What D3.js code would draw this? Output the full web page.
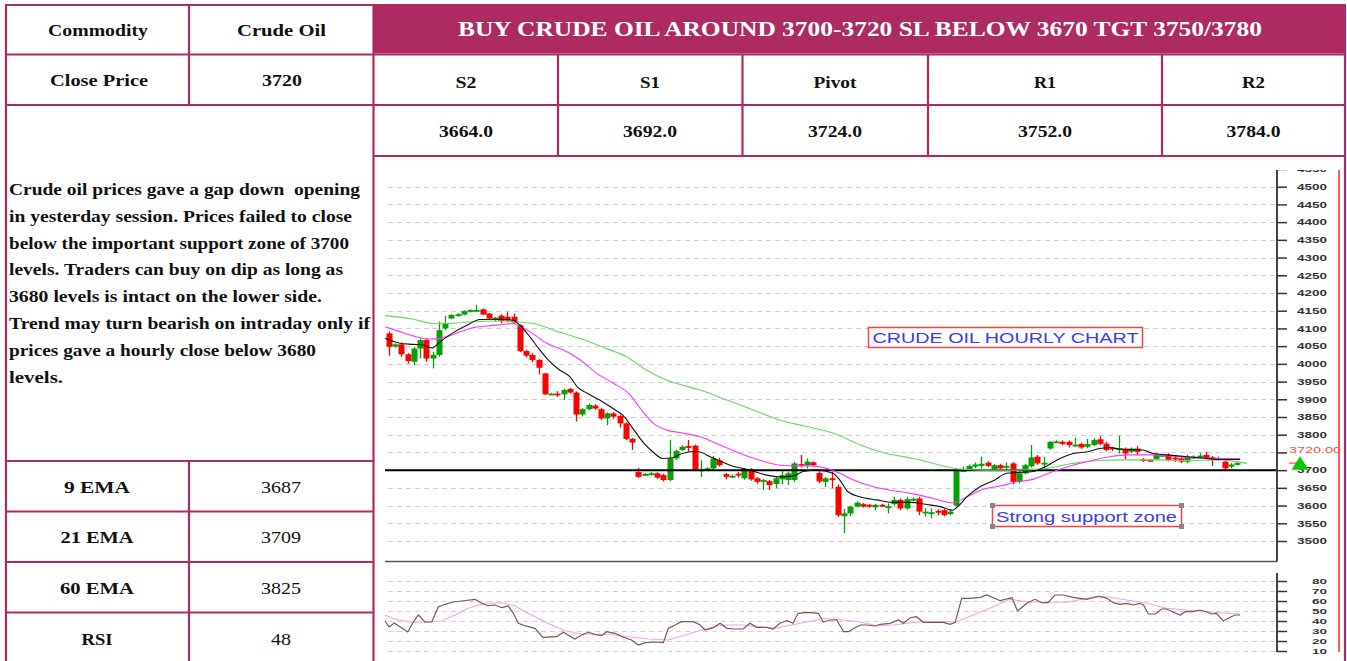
<!DOCTYPE html>
<html><head><meta charset="utf-8">
<script src="https://cdn.jsdelivr.net/npm/d3@7"></script>
<style>html,body{margin:0;padding:0;background:#fff;}svg{display:block;}</style>
</head><body>
<svg id="c" width="1347" height="661"></svg>
<script>
// ---------------- DATA ----------------
const commodityLabel = "Commodity";
const commodityName = "Crude Oil";
const closeLabel = "Close Price";
const closePrice = "3720";
const headline = "BUY CRUDE OIL AROUND 3700-3720 SL BELOW 3670 TGT 3750/3780";
const levelNames = ["S2", "S1", "Pivot", "R1", "R2"];
const levelValues = [3664.0, 3692.0, 3724.0, 3752.0, 3784.0];
const commentary = [
  "Crude oil prices gave a gap down  opening",
  "in yesterday session. Prices failed to close",
  "below the important support zone of 3700",
  "levels. Traders can buy on dip as long as",
  "3680 levels is intact on the lower side.",
  "Trend may turn bearish on intraday only if",
  "prices gave a hourly close below 3680",
  "levels."
];
const indicatorNames = ["9 EMA", "21 EMA", "60 EMA", "RSI"];
const indicatorValues = [3687, 3709, 3825, 48];

const open = [4086,4049,4055,4027,4006,4043,4067,4015,4025,4100,
4128,4136,4139,4147,4149,4154,4142,4127,4136,4133,
4133,4109,4036,4025,4011,3973,3914,3916,3914,3929,
3919,3857,3872,3882,3872,3846,3860,3853,3832,3788,
3695,3686,3688,3691,3686,3672,3733,3757,3768,3769,
3697,3702,3705,3728,3689,3682,3690,3677,3702,3677,
3668,3669,3661,3674,3672,3672,3717,3714,3722,3692,
3667,3677,3653,3570,3578,3597,3604,3602,3595,3602,
3595,3604,3616,3592,3616,3620,3580,3578,3585,3587,
3576,3600,3697,3702,3710,3712,3721,3702,3714,3708,
3719,3667,3691,3711,3738,3717,3761,3779,3780,3780,
3768,3774,3766,3771,3787,3775,3764,3759,3761,3752,
3761,3731,3729,3731,3740,3743,3735,3733,3724,3736,
3737,3743,3736,3734,3724,3710,3716];
const high = [4091,4058,4060,4030,4048,4072,4072,4034,4119,4136,
4140,4143,4151,4154,4166,4156,4144,4133,4140,4147,
4142,4112,4040,4030,4014,3975,3918,3923,3930,3932,
3922,3875,3888,3886,3876,3863,3864,3856,3835,3791,
3707,3692,3695,3694,3690,3785,3758,3770,3785,3772,
3728,3708,3740,3735,3692,3688,3695,3706,3706,3680,
3675,3672,3680,3700,3695,3724,3743,3733,3725,3697,
3680,3696,3660,3590,3600,3612,3607,3604,3605,3605,
3606,3625,3620,3625,3623,3625,3592,3592,3590,3590,
3590,3703,3710,3716,3722,3738,3725,3718,3718,3722,
3722,3700,3718,3771,3743,3738,3782,3784,3784,3784,
3792,3777,3788,3790,3796,3780,3766,3797,3764,3764,
3768,3734,3732,3748,3746,3748,3740,3736,3743,3742,
3748,3752,3740,3738,3728,3720,3724];
const low = [4023,4045,4020,4001,3996,4015,4006,3987,4020,4095,
4126,4133,4137,4145,4146,4137,4125,4120,4114,4118,
4112,4033,4018,4005,3970,3912,3912,3907,3898,3916,
3837,3852,3869,3870,3842,3827,3845,3820,3785,3757,
3678,3684,3685,3675,3668,3669,3728,3754,3752,3697,
3681,3698,3700,3710,3674,3678,3679,3673,3670,3662,
3644,3644,3649,3660,3658,3667,3708,3705,3711,3664,
3653,3649,3568,3522,3570,3595,3594,3594,3587,3596,
3578,3600,3587,3588,3612,3573,3569,3564,3572,3570,
3572,3597,3694,3699,3706,3705,3708,3699,3702,3700,
3660,3662,3688,3708,3715,3705,3758,3776,3770,3764,
3766,3760,3762,3768,3770,3753,3754,3747,3730,3748,
3742,3723,3724,3728,3737,3725,3723,3720,3720,3732,
3733,3730,3712,3728,3700,3705,3713];
const close = [4048,4055,4027,4008,4043,4067,4015,4025,4095,4114,
4138,4140,4149,4152,4152,4139,4128,4130,4121,4123,
4117,4036,4023,4011,3989,3914,3916,3913,3926,3919,
3857,3872,3884,3874,3846,3860,3851,3832,3788,3778,
3681,3689,3691,3679,3672,3733,3754,3766,3764,3702,
3702,3705,3733,3714,3681,3684,3685,3702,3674,3667,
3672,3658,3677,3686,3691,3719,3712,3724,3714,3668,
3677,3672,3573,3578,3597,3608,3597,3597,3602,3600,
3598,3616,3592,3618,3619,3583,3583,3581,3580,3573,
3583,3700,3700,3712,3716,3718,3712,3714,3705,3712,
3667,3691,3714,3736,3719,3721,3780,3781,3774,3771,
3772,3764,3774,3785,3774,3757,3760,3762,3747,3761,
3752,3726,3726,3743,3743,3729,3730,3724,3738,3738,
3741,3734,3729,3731,3705,3716,3720];

// EMA lines: [candle index, value]
const ema9 = [[-0.64,4072],[1.76,4058],[3.85,4055],[5.45,4053],[6.9,4045],[8.18,4062],[10.1,4086],[12.5,4109],[14.6,4125],[17.3,4126],[19.9,4123],[21.0,4109],[22.6,4076],[24.2,4039],[25.8,4006],[27.4,3982],[29.0,3964],[30.2,3935],[31.8,3917],[33.8,3898],[35.9,3874],[37.5,3855],[39.1,3818],[40.7,3780],[42.3,3752],[43.9,3733],[45.5,3735],[46.6,3744],[48.3,3752],[49.6,3752],[51.5,3738],[54.7,3714],[57.9,3700],[60.6,3686],[62.7,3681],[64.8,3683],[66.4,3696],[68.6,3700],[71.2,3691],[72.3,3672],[73.6,3639],[75.5,3625],[78.2,3616],[80.8,3609],[83.6,3609],[86.3,3603],[88.4,3597],[90.4,3587],[91.2,3597],[92.7,3625],[94.8,3653],[96.9,3670],[99.1,3691],[100.7,3693],[103.3,3696],[105.5,3712],[107.6,3733],[109.7,3747],[112.0,3752],[114.0,3761],[115.6,3764],[117.2,3759],[120.9,3757],[122.5,3747],[124.8,3743],[128.0,3738],[131.2,3733],[133.3,3730],[136.5,3730]];
const ema21 = [[-0.64,4105],[1.76,4091],[3.9,4079],[6.6,4070],[8.2,4072],[10.3,4083],[13.0,4100],[15.7,4107],[18.3,4111],[19.9,4114],[21.0,4105],[22.6,4091],[25.3,4058],[28.0,4039],[30.7,4011],[33.3,3973],[36.0,3945],[38.7,3912],[40.3,3874],[42.4,3832],[44.6,3813],[46.7,3806],[49.9,3794],[53.1,3771],[56.3,3747],[59.5,3728],[62.7,3714],[65.4,3712],[67.5,3712],[70.2,3705],[72.3,3691],[74.5,3672],[77.7,3653],[80.9,3642],[84.1,3633],[87.3,3620],[90.5,3608],[92.7,3625],[95.3,3646],[98.0,3655],[100.7,3667],[103.3,3674],[106.5,3696],[109.7,3714],[112.9,3728],[115.6,3738],[118.8,3743],[122.6,3743],[127.9,3736],[132.2,3733],[136.5,3733]];
const ema60 = [[-0.64,4136],[3.9,4126],[7.1,4114],[9.25,4114],[13.5,4119],[17.8,4121],[19.9,4119],[23.2,4114],[26.4,4095],[30.6,4072],[34.9,4043],[38.1,4020],[41.3,3982],[44.6,3954],[49.9,3926],[54.2,3898],[58.4,3870],[62.7,3841],[67.0,3823],[71.3,3804],[75.6,3771],[79.8,3747],[84.1,3733],[88.4,3714],[91.6,3703],[95.3,3700],[100.7,3700],[105.5,3705],[109.7,3719],[114.0,3727],[118.3,3729],[122.6,3729],[127.9,3727],[133.3,3729],[137.6,3719]];

// RSI (candle index, value)
const rsiIdx = [-0.64,0,0.85,2.04,3.0,3.9,4.7,5.77,6.85,7.9,
8.98,10.3,11.66,13.8,14.87,15.9,17.0,18.07,19.13,19.94,
20.74,21.8,23.4,24.7,26.9,27.96,29.8,30.9,31.96,33.0,
34.1,34.9,36.25,37.6,38.9,40.0,41.06,42.7,44.0,44.8,
45.9,46.9,48.8,49.9,50.7,52.0,53.1,54.2,55.5,56.8,
57.9,58.97,60.6,61.6,62.7,63.8,64.8,65.6,67.25,68.85,
69.65,70.7,71.8,72.9,73.7,74.7,75.7,76.6,77.95,78.75,
80.35,81.7,82.5,83.6,84.6,85.7,87.3,88.9,90.0,90.8,
91.85,93.2,94.8,95.9,98.0,99.9,100.8,102.3,103.6,104.7,
105.7,106.8,108.1,109.75,111.9,113.8,115.1,116.2,117.2,118.3,
119.4,120.4,121.0,121.8,122.9,123.9,124.7,125.8,126.9,127.7,
129.0,130.0,131.1,131.9,132.7,133.8,134.9,135.7,136.5];
const rsiVal = [40.3,34,38,33,29,39,46,39,39,54,
56.7,59,60,61.7,57.7,55.3,56,53.3,55,47.7,
37.7,35.3,32.7,23.7,24.3,28.7,22,26,28.7,26.7,
25.3,29.3,27.7,23.7,21,16,18.3,19,18.3,32.7,
36,39.3,39.3,36,31,33.3,37.7,32.7,32,32,
37.7,33.7,33.7,32,37.7,40.3,37.7,47.7,48.7,47.7,
39,41,41,29.3,29.3,33.3,36,36,35,36.7,
37.7,41,37.7,43.3,44.3,38.7,38.7,38.7,36.7,38.7,
62.7,62.7,63.7,66,60.3,63.3,50,57.7,61.7,58.3,
58.3,66,66,63.7,61.7,65,62.7,58.3,56.7,57.7,
56,57.7,56,47,47,52,52,48.7,46,49.3,
49.3,51,49.3,47,47.7,40,43.7,46,46];
const rsiSignal = [[-0.64,46],[0.96,41.7],[3.1,39.3],[5.8,38.7],[8.45,40.3],[10.6,46],[12.7,52.7],[15.4,57.7],[18.1,58.3],[20.2,55],[22.3,47.7],[25.5,37.7],[28.2,30.3],[30.9,27],[35.2,26.7],[38.4,24.3],[41.6,22],[44.8,21],[47.5,26],[50.2,31],[53.4,36],[56.6,36],[59.2,34.3],[61.9,32.7],[65.1,36.7],[67.25,39.3],[69.9,42.7],[72.6,41],[75.5,39.3],[78.2,35.3],[80.9,36],[85.2,39.3],[88.4,39.3],[91.05,39.3],[93.7,46],[96.9,54.3],[99.6,61.7],[102.3,59.3],[105.5,58.7],[108.7,58.7],[111.9,62.7],[115.1,64.3],[118.3,61],[121.5,57.7],[124.7,52.7],[127.9,51],[131.1,49.3],[133.3,48.3],[136.5,47]];

const priceTicks = d3.range(3500, 4551, 50);
const hiddenPriceLabels = [3750];   // covered by the last-price tag in the reference
const rsiTicks = [10, 20, 30, 40, 50, 60, 70, 80];
const supportLevel = 3700;
const lastPrice = 3720;
const chartTitle = "CRUDE OIL HOURLY CHART";
const supportNote = "Strong support zone";

// ---------------- DRAWING ----------------
const svg = d3.select("#c");
const MAG = "#AE2A63";
const serif = "'Palatino Linotype','Book Antiqua','Liberation Serif',serif";
const sans = "'Liberation Sans',Arial,sans-serif";
const GREEN = "#05A005", RED = "#FF0000";

svg.append("rect").attr("width", 1347).attr("height", 661).attr("fill", "#fff");

function txt(g, x, y, s, o) {
  o = o || {};
  const t = g.append("text").attr("x", x).attr("y", y).text(s)
    .attr("font-family", o.family || serif).attr("font-size", o.size || 17)
    .attr("font-weight", o.weight || "bold").attr("fill", o.fill || "#111")
    .attr("text-anchor", o.anchor || "middle");
  if (o.w) t.attr("textLength", o.w).attr("lengthAdjust", "spacingAndGlyphs");
  return t;
}

// ----- table -----
const tbl = svg.append("g");
tbl.append("rect").attr("x", 374).attr("y", 5).attr("width", 971).attr("height", 48.5).attr("fill", MAG);
const hLines = [[5,1346,5],[5,1346,54.5],[5,1346,105],[373,1346,156],[5,373,461],[5,373,511.5],[5,373,562],[5,373,612.5]];
const vLines = [[6,5,661],[189,5,105],[189,461,661],[373.5,5,661],[558,54,156],[742.5,54,156],[928,54,156],[1162,54,156],[1345,5,661]];
tbl.selectAll("line.h").data(hLines).join("line")
  .attr("x1", d => d[0]).attr("x2", d => d[1]).attr("y1", d => d[2]).attr("y2", d => d[2])
  .attr("stroke", MAG).attr("stroke-width", 2.2);
tbl.selectAll("line.v").data(vLines).join("line")
  .attr("x1", d => d[0]).attr("x2", d => d[0]).attr("y1", d => d[1]).attr("y2", d => d[2])
  .attr("stroke", MAG).attr("stroke-width", 2.2);

txt(tbl, 98, 36, commodityLabel, {w: 100});
txt(tbl, 281.5, 36, commodityName, {w: 89});
txt(tbl, 860, 36, headline, {w: 804, size: 20, weight: "bold", fill: "#fff"});
txt(tbl, 99, 86, closeLabel, {w: 98});
txt(tbl, 282, 86, closePrice, {w: 40});

const colCenters = [466, 650, 835, 1045, 1253.5];
const nameW = [21, 20, 43, 22, 23];
levelNames.forEach((n, i) => txt(tbl, colCenters[i], 88, n, {w: nameW[i]}));
levelValues.forEach((v, i) => txt(tbl, colCenters[i], 137, d3.format(".1f")(v), {w: 54}));

const paraW = [351, 343, 340, 334, 313, 361, 307, 54];
commentary.forEach((line, i) => {
  txt(tbl, 9, 195 + i * 26.8, line, {anchor: "start", w: paraW[i]}).style("white-space", "pre");
});

const indY = [493, 543, 594, 645];
const indNameW = [66, 73, 74, 31];
const indValW = [40, 40, 40, 20];
indicatorNames.forEach((n, i) => {
  txt(tbl, 97, indY[i], n, {w: indNameW[i]});
  txt(tbl, 281, indY[i], String(indicatorValues[i]), {w: indValW[i], weight: "normal"});
});

// ----- chart -----
const N = open.length;
const sx = d3.scaleLinear().domain([0, N - 1]).range([389, 1237]);
const sy = d3.scaleLinear().domain([3500, 4500]).range([541, 186.7]);
const ry = d3.scaleLinear().domain([10, 80]).range([651, 581]);

const defs = svg.append("defs");
defs.append("clipPath").attr("id", "pc").append("rect").attr("x", 376).attr("y", 170).attr("width", 901).attr("height", 391);
defs.append("clipPath").attr("id", "rc").append("rect").attr("x", 376).attr("y", 572).attr("width", 901).attr("height", 84);
defs.append("clipPath").attr("id", "ac").append("rect").attr("x", 1277).attr("y", 170).attr("width", 62).attr("height", 400);

const gp = svg.append("g").attr("clip-path", "url(#pc)");
gp.selectAll("line.grid").data(priceTicks.filter(t => t <= 4500)).join("line")
  .attr("x1", 388).attr("x2", 1275)
  .attr("y1", d => Math.round(sy(d)) + 0.5).attr("y2", d => Math.round(sy(d)) + 0.5)
  .attr("stroke", "#cfcfcf").attr("stroke-width", 1).attr("stroke-dasharray", "5,4");

// candles
const idx = d3.range(N);
const col = i => close[i] >= open[i] ? GREEN : RED;
gp.selectAll("line.wick").data(idx).join("line")
  .attr("x1", i => Math.round(sx(i)) + 0.5).attr("x2", i => Math.round(sx(i)) + 0.5)
  .attr("y1", i => sy(high[i])).attr("y2", i => sy(low[i]))
  .attr("stroke", col).attr("stroke-width", 1.3);
gp.selectAll("rect.body").data(idx).join("rect")
  .attr("x", i => Math.round(sx(i)) - 2.5).attr("width", 6)
  .attr("y", i => sy(Math.max(open[i], close[i])))
  .attr("height", i => Math.max(1.8, Math.abs(sy(open[i]) - sy(close[i]))))
  .attr("fill", col);

// support line
gp.append("line").attr("x1", 385).attr("x2", 1277)
  .attr("y1", sy(supportLevel)).attr("y2", sy(supportLevel))
  .attr("stroke", "#000").attr("stroke-width", 2);

// EMAs
const ln = d3.line().x(d => sx(d[0])).y(d => sy(d[1])).curve(d3.curveMonotoneX);
gp.append("path").attr("d", ln(ema60)).attr("fill", "none").attr("stroke", "#66D866").attr("stroke-width", 1.1);
gp.append("path").attr("d", ln(ema21)).attr("fill", "none").attr("stroke", "#FF33FF").attr("stroke-width", 1.1);
gp.append("path").attr("d", ln(ema9)).attr("fill", "none").attr("stroke", "#111").attr("stroke-width", 1.1);

// panel frame
svg.append("line").attr("x1", 385).attr("x2", 1277).attr("y1", 561.5).attr("y2", 561.5).attr("stroke", "#555").attr("stroke-width", 1.5);
svg.append("line").attr("x1", 1277).attr("x2", 1277).attr("y1", 170).attr("y2", 561.5).attr("stroke", "#444").attr("stroke-width", 2);

// price axis
const pa = svg.append("g").attr("clip-path", "url(#ac)").append("g").attr("transform", "translate(1277,0)")
  .call(d3.axisRight(sy).tickValues(priceTicks).tickSize(10).tickSizeOuter(0).tickPadding(10)
    .tickFormat(d => hiddenPriceLabels.includes(d) ? "" : d3.format("d")(d)));
pa.select(".domain").remove();
pa.selectAll(".tick line").attr("stroke", "#333").attr("stroke-width", 1.5);
pa.selectAll(".tick text").filter(d => hiddenPriceLabels.includes(d)).remove();
pa.selectAll(".tick text").attr("font-family", sans).attr("font-size", 8.5).attr("font-weight", "bold")
  .attr("fill", "#333").attr("textLength", 30).attr("lengthAdjust", "spacingAndGlyphs");

// last price marker
svg.append("line").attr("x1", 1289).attr("x2", 1300).attr("y1", sy(lastPrice)).attr("y2", sy(lastPrice))
  .attr("stroke", "#FF4040").attr("stroke-width", 1.2);
svg.append("text").attr("x", 1289).attr("y", sy(lastPrice) - 10.5).text(d3.format(".2f")(lastPrice))
  .attr("font-family", sans).attr("font-size", 8.5).attr("fill", "#FF4A4A")
  .attr("textLength", 52).attr("lengthAdjust", "spacingAndGlyphs");
const ty = sy(supportLevel);
svg.append("path").attr("d", `M1291.5,${ty - 0.5}L1308.5,${ty - 0.5}L1300,${ty - 14}Z`).attr("fill", "#00CC00");

// annotations
svg.append("rect").attr("x", 868.5).attr("y", 327.5).attr("width", 274).attr("height", 20)
  .attr("fill", "#fff").attr("stroke", "#FF4040").attr("stroke-width", 1.5);
txt(svg, 1005.5, 343, chartTitle, {family: sans, size: 15.5, weight: "normal", fill: "#3B3BF5", w: 266});
svg.append("rect").attr("x", 992.5).attr("y", 505.5).attr("width", 189).attr("height", 21)
  .attr("fill", "#fff").attr("stroke", "#FF4040").attr("stroke-width", 1.5);
[[992.5,505.5],[1181.5,505.5],[992.5,526.5],[1181.5,526.5]].forEach(p => {
  svg.append("rect").attr("x", p[0] - 2.5).attr("y", p[1] - 2.5).attr("width", 5).attr("height", 5).attr("fill", "#888");
});
txt(svg, 996, 521.5, supportNote, {family: sans, size: 15.5, weight: "normal", fill: "#3B3BF5", w: 181, anchor: "start"});

// ----- RSI panel -----
const gr = svg.append("g").attr("clip-path", "url(#rc)");
gr.selectAll("line.grid").data(rsiTicks).join("line")
  .attr("x1", 388).attr("x2", 1275)
  .attr("y1", d => Math.round(ry(d)) + 0.5).attr("y2", d => Math.round(ry(d)) + 0.5)
  .attr("stroke", "#d3d3d3").attr("stroke-width", 1).attr("stroke-dasharray", "5,4");
const rl = d3.line().x(d => sx(d[0])).y(d => ry(d[1]));
gr.append("path").attr("d", rl(rsiSignal)).attr("fill", "none").attr("stroke", "#EFA2EF").attr("stroke-width", 1.1);
gr.append("path").attr("d", rl(rsiIdx.map((v, i) => [v, rsiVal[i]]))).attr("fill", "none").attr("stroke", "#7A5656").attr("stroke-width", 1.2);

svg.append("line").attr("x1", 1277).attr("x2", 1277).attr("y1", 573).attr("y2", 652).attr("stroke", "#444").attr("stroke-width", 2);
const ra = svg.append("g").attr("transform", "translate(1277,0)")
  .call(d3.axisRight(ry).tickValues(rsiTicks).tickSize(10).tickSizeOuter(0).tickPadding(25).tickFormat(d3.format("d")));
ra.select(".domain").remove();
ra.selectAll(".tick line").attr("stroke", "#333").attr("stroke-width", 1.5);
ra.selectAll(".tick text").attr("font-family", sans).attr("font-size", 7.5).attr("font-weight", "bold")
  .attr("fill", "#333").attr("textLength", 15).attr("lengthAdjust", "spacingAndGlyphs");

// right red frame line
svg.append("line").attr("x1", 1339).attr("x2", 1339).attr("y1", 170).attr("y2", 652)
  .attr("stroke", "#FF5A5A").attr("stroke-width", 2);
</script>
</body></html>
